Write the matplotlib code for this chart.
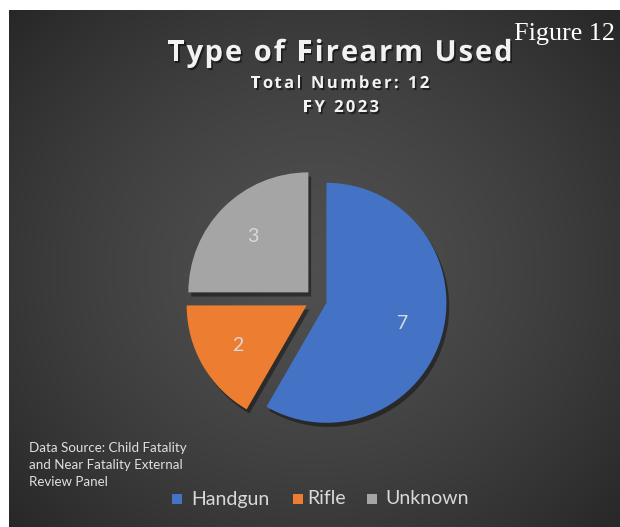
import matplotlib

matplotlib.use("Agg")
import matplotlib.pyplot as plt
import matplotlib.patheffects as pe
import numpy as np
from matplotlib.patches import Rectangle

categories = ["Handgun", "Rifle", "Unknown"]
counts = [7, 2, 3]
colors = ["#4472C4", "#ED7D31", "#A5A5A5"]
title = "Type of Firearm Used"
subtitle = ["Total Number: 12", "FY 2023"]
source_note = "Data Source: Child Fatality\nand Near Fatality External\nReview Panel"

W, H = 620, 527
fig = plt.figure(figsize=(W / 100, H / 100), dpi=100, facecolor="white")
renderer = fig.canvas.get_renderer()


def text_width(s, **kw):
    """Advance width in pixels, trailing spaces included."""
    stripped = s.rstrip(" ")
    n_trail = len(s) - len(stripped)
    w = 0.0
    if stripped:
        t = fig.text(0, 0, stripped, **kw)
        w = t.get_window_extent(renderer).width
        t.remove()
    if n_trail:
        a = fig.text(0, 0, "a a", **kw)
        b = fig.text(0, 0, "aa", **kw)
        w += n_trail * (a.get_window_extent(renderer).width - b.get_window_extent(renderer).width)
        a.remove()
        b.remove()
    return w


def tracked_text(xc, y_base, s, track, **kw):
    """Centred text with extra spacing between letters (pixel coords, y from top)."""
    total = text_width(s, **kw) + track * (len(s) - 1)
    x0 = xc - total / 2
    for i, ch in enumerate(s):
        if ch == " ":
            continue
        x = x0 + text_width(s[:i], **kw) + track * i
        fig.text(x / W, 1 - y_base / H, ch, ha="left", va="baseline", **kw)


# dark panel with a soft radial gradient
bg = fig.add_axes([9 / W, 0, (W - 9) / W, (H - 10) / H])
bg.set_axis_off()
yy, xx = np.mgrid[0:517, 0:611]
r = np.sqrt(((xx - 305) / 330.0) ** 2 + ((yy - 260) / 300.0) ** 2)
shade = 0.31 - 0.11 * r ** 1.5
bg.imshow(np.dstack([shade] * 3), aspect="auto", extent=(0, 1, 0, 1), origin="upper")
bg.set_xlim(0, 1)
bg.set_ylim(0, 1)

# pie
cx, cy, half = 316, 300, 150
ax = fig.add_axes([(cx - half) / W, (H - cy - half) / H, 2 * half / W, 2 * half / H])
wedges, texts = ax.pie(
    counts,
    colors=colors,
    startangle=90,
    counterclock=False,
    explode=[0.09] * 3,
    labels=[str(c) for c in counts],
    labeldistance=0.66,
    textprops=dict(color="#d9d9d9", fontsize=14, family="Lato"),
    wedgeprops=dict(linewidth=0),
)
for t in texts:
    t.set_horizontalalignment("center")
    t.set_verticalalignment("center")
for w in wedges:
    w.set_path_effects([
        pe.withSimplePatchShadow(offset=(2, -3), shadow_rgbFace="black", alpha=0.4),
    ])
ax.set_xlim(-1.25, 1.25)
ax.set_ylim(-1.25, 1.25)

shadow = [pe.withSimplePatchShadow(offset=(1.2, -1.5), shadow_rgbFace="black", alpha=0.5)]
head = dict(color="#f2f2f2", fontweight="bold", family="Open Sans", path_effects=shadow)
tracked_text(340, 61, title, 2.0, fontsize=21, **head)
tracked_text(340, 88, subtitle[0], 2.4, fontsize=12, **head)
tracked_text(341, 112, subtitle[1], 2.4, fontsize=12, **head)

fig.text(615 / W, 1 - 40 / H, "Figure 12", ha="right", va="baseline", color="white",
         fontsize=18.8, family="Liberation Serif")

fig.text(29 / W, 1 - 465 / H, source_note, ha="left", va="center", color="#e0e0e0",
         fontsize=9.6, family="Lato", linespacing=1.45)

# legend
squares = [172, 293, 367]
starts = [191, 307, 385]
for sx, tx, name, col in zip(squares, starts, categories, colors):
    fig.patches.append(Rectangle((sx / W, 1 - 504 / H), 10 / W, 10 / H, transform=fig.transFigure,
                                 facecolor=col, edgecolor="none"))
    fig.text(tx / W, 1 - 499 / H, name, ha="left", va="center", color="#d9d9d9",
             fontsize=14, family="Lato")

fig.savefig("out.png", dpi=100)
